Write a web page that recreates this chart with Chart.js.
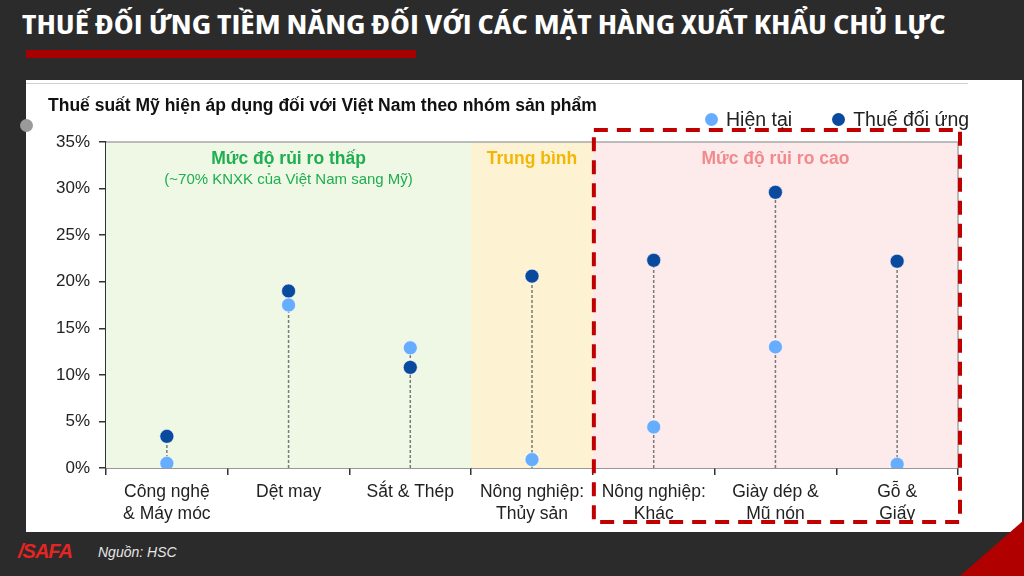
<!DOCTYPE html>
<html>
<head>
<meta charset="utf-8">
<script src="https://cdn.jsdelivr.net/npm/chart.js@4.4.1/dist/chart.umd.min.js"></script>
<style>
html,body{margin:0;padding:0}
body{width:1024px;height:576px;background:#2b2b2b;position:relative;overflow:hidden;font-family:"Liberation Sans",Arial,sans-serif}
#title{position:absolute;left:22px;top:5px;color:#fff;font-family:"Open Sans","DejaVu Sans Condensed",sans-serif;font-stretch:75%;font-weight:bold;font-size:27px;white-space:nowrap;transform-origin:0 0}
#redbar{position:absolute;left:26px;top:50px;width:390px;height:8px;background:#a80000}
#panel{position:absolute;left:26px;top:80px;width:996px;height:452px;background:#fff}
#panel .topline{position:absolute;left:0;top:3px;width:942px;height:1px;background:#d0d0d0}
#greydot{position:absolute;left:-6px;top:39px;width:13px;height:13px;border-radius:50%;background:#9a9a9a}
#ctitle{position:absolute;left:22px;top:15px;font-weight:bold;font-size:17.5px;color:#111;white-space:nowrap}
#legend{position:absolute;left:679px;top:28px;font-size:19.5px;color:#222;white-space:nowrap}
#legend span.dot{display:inline-block;width:13px;height:13px;border-radius:50%;vertical-align:0px;margin-right:8px}
#legend span.item{margin-right:40px}
canvas{position:absolute;left:0;top:0}
#logo{position:absolute;left:18px;top:540px;color:#e52424;font-weight:bold;font-style:italic;font-size:20px;letter-spacing:-1px}
#source{position:absolute;left:98px;top:544px;color:#e6e6e6;font-style:italic;font-size:14px}
#corner{position:absolute;left:960px;top:520px;width:64px;height:56px;background:#b00000;clip-path:polygon(100% 0,100% 100%,0 100%)}
</style>
</head>
<body>
<div id="title">THUẾ ĐỐI ỨNG TIỀM NĂNG ĐỐI VỚI CÁC MẶT HÀNG XUẤT KHẨU CHỦ LỰC</div>
<div id="redbar"></div>
<div id="panel">
  <div class="topline"></div>
  <canvas id="chart" width="996" height="452"></canvas>
  <div id="greydot"></div>
  <div id="ctitle">Thuế suất Mỹ hiện áp dụng đối với Việt Nam theo nhóm sản phẩm</div>
  <div id="legend"><span class="item"><span class="dot" style="background:#66adff"></span>Hiện tại</span><span><span class="dot" style="background:#0a4a9e"></span>Thuế đối ứng</span></div>
</div>
<div id="logo">/SAFA</div>
<div id="source">Nguồn: HSC</div>
<div id="corner"></div>
<script>
const categories = [["Công nghệ","& Máy móc"],"Dệt may","Sắt & Thép",["Nông nghiệp:","Thủy sản"],["Nông nghiệp:","Khác"],["Giày dép &","Mũ nón"],["Gỗ &","Giấy"]]
const currentRate = [0.5,17.5,12.9,0.9,4.4,13.0,0.4]
const reciprocalRate = [3.4,19.0,10.8,20.6,22.3,29.6,22.2]
const yTicks = [0,5,10,15,20,25,30,35]

// risk bands: first and last category index of each group
const bandNames = ["Mức độ rủi ro thấp","Trung bình","Mức độ rủi ro cao"]
const bandNotes = ["(~70% KNXK của Việt Nam sang Mỹ)","",""]
const bandStart = [0,3,4]
const bandEnd = [2,3,6]
const bandFill = ["#eff7e5","#fdf3d3","#fdeaeb"]
const bandText = ["#1fae50","#f2b705","#f28a8c"]
const highlightBand = 2

// fit the page title to its width in the slide
const titleEl = document.getElementById("title")
titleEl.style.transform = "scaleX(" + (924/titleEl.offsetWidth) + ")"

const FONT = "'Liberation Sans', Arial, sans-serif"

const bandsPlugin = {
id:"bands",
beforeDatasetsDraw(chart){
const ctx = chart.ctx
const x = chart.scales.x
const y = chart.scales.y
const a = chart.chartArea
ctx.save()
for(let i=0;i<bandNames.length;i++){
const l = x.getPixelForValue(bandStart[i]-0.5)
const r = x.getPixelForValue(bandEnd[i]+0.5)
ctx.fillStyle = bandFill[i]
ctx.fillRect(l,a.top,r-l,a.bottom-a.top)
}
// border top and right
ctx.strokeStyle = "#a8a8a8"
ctx.lineWidth = 1.5
ctx.beginPath()
ctx.moveTo(a.left,a.top)
ctx.lineTo(a.right,a.top)
ctx.lineTo(a.right,a.bottom)
ctx.stroke()
// band labels
ctx.textAlign = "center"
ctx.textBaseline = "middle"
for(let i=0;i<bandNames.length;i++){
const c = (x.getPixelForValue(bandStart[i]-0.5)+x.getPixelForValue(bandEnd[i]+0.5))/2
ctx.fillStyle = bandText[i]
ctx.font = "bold 17.5px " + FONT
ctx.fillText(bandNames[i],c,a.top+17)
if(bandNotes[i]){
ctx.font = "15px " + FONT
ctx.fillText(bandNotes[i],c,a.top+38)
}
}
// stems
ctx.strokeStyle = "#7a7a7a"
ctx.lineWidth = 1.5
ctx.setLineDash([3,2])
for(let i=0;i<categories.length;i++){
const px = x.getPixelForValue(i)
const top = Math.max(currentRate[i],reciprocalRate[i])
ctx.beginPath()
ctx.moveTo(px,y.getPixelForValue(0))
ctx.lineTo(px,y.getPixelForValue(top))
ctx.stroke()
}
ctx.restore()
},
afterDraw(chart){
const ctx = chart.ctx
const x = chart.scales.x
const a = chart.chartArea
const l = x.getPixelForValue(bandStart[highlightBand]-0.5)+1
const r = x.getPixelForValue(bandEnd[highlightBand]+0.5)+2
ctx.save()
ctx.strokeStyle = "#c00000"
ctx.lineWidth = 4
ctx.setLineDash([14,9])
ctx.strokeRect(l,a.top-12,r-l,a.bottom-a.top+66)
ctx.restore()
}
}

new Chart(document.getElementById("chart"),{
type:"line",
data:{
labels:categories,
datasets:[{
label:"Hiện tại",
data:currentRate,
showLine:false,
pointRadius:7,
pointHoverRadius:7,
pointBackgroundColor:"#66adff",
pointBorderColor:"rgba(255,255,255,0.6)",
pointBorderWidth:1,
order:1
},{
label:"Thuế đối ứng",
data:reciprocalRate,
showLine:false,
pointRadius:7,
pointHoverRadius:7,
pointBackgroundColor:"#0a4a9e",
pointBorderColor:"rgba(255,255,255,0.6)",
pointBorderWidth:1,
order:2
}]
},
options:{
responsive:false,
animation:false,
layout:{padding:{top:62,right:64,left:0,bottom:0}},
plugins:{legend:{display:false},tooltip:{enabled:false}},
scales:{
x:{
offset:true,
grid:{offset:true,drawOnChartArea:false,drawTicks:true,tickLength:7,color:"#333",lineWidth:1.5},
border:{color:"#333",width:1.5},
ticks:{color:"#222",font:{size:17.5,family:FONT,lineHeight:1.25},padding:6,maxRotation:0,autoSkip:false},
afterFit(s){s.height=64}
},
y:{
min:0,
max:35,
afterBuildTicks(s){s.ticks=yTicks.map(v=>({value:v}))},
grid:{drawOnChartArea:false,drawTicks:true,tickLength:7,color:"#333",lineWidth:1.5},
border:{color:"#333",width:1.5},
ticks:{color:"#222",font:{size:17,family:FONT},padding:9,callback:v=>v+"%"},
afterFit(s){s.width=80}
}
}
},
plugins:[bandsPlugin]
})
</script>
</body>
</html>
